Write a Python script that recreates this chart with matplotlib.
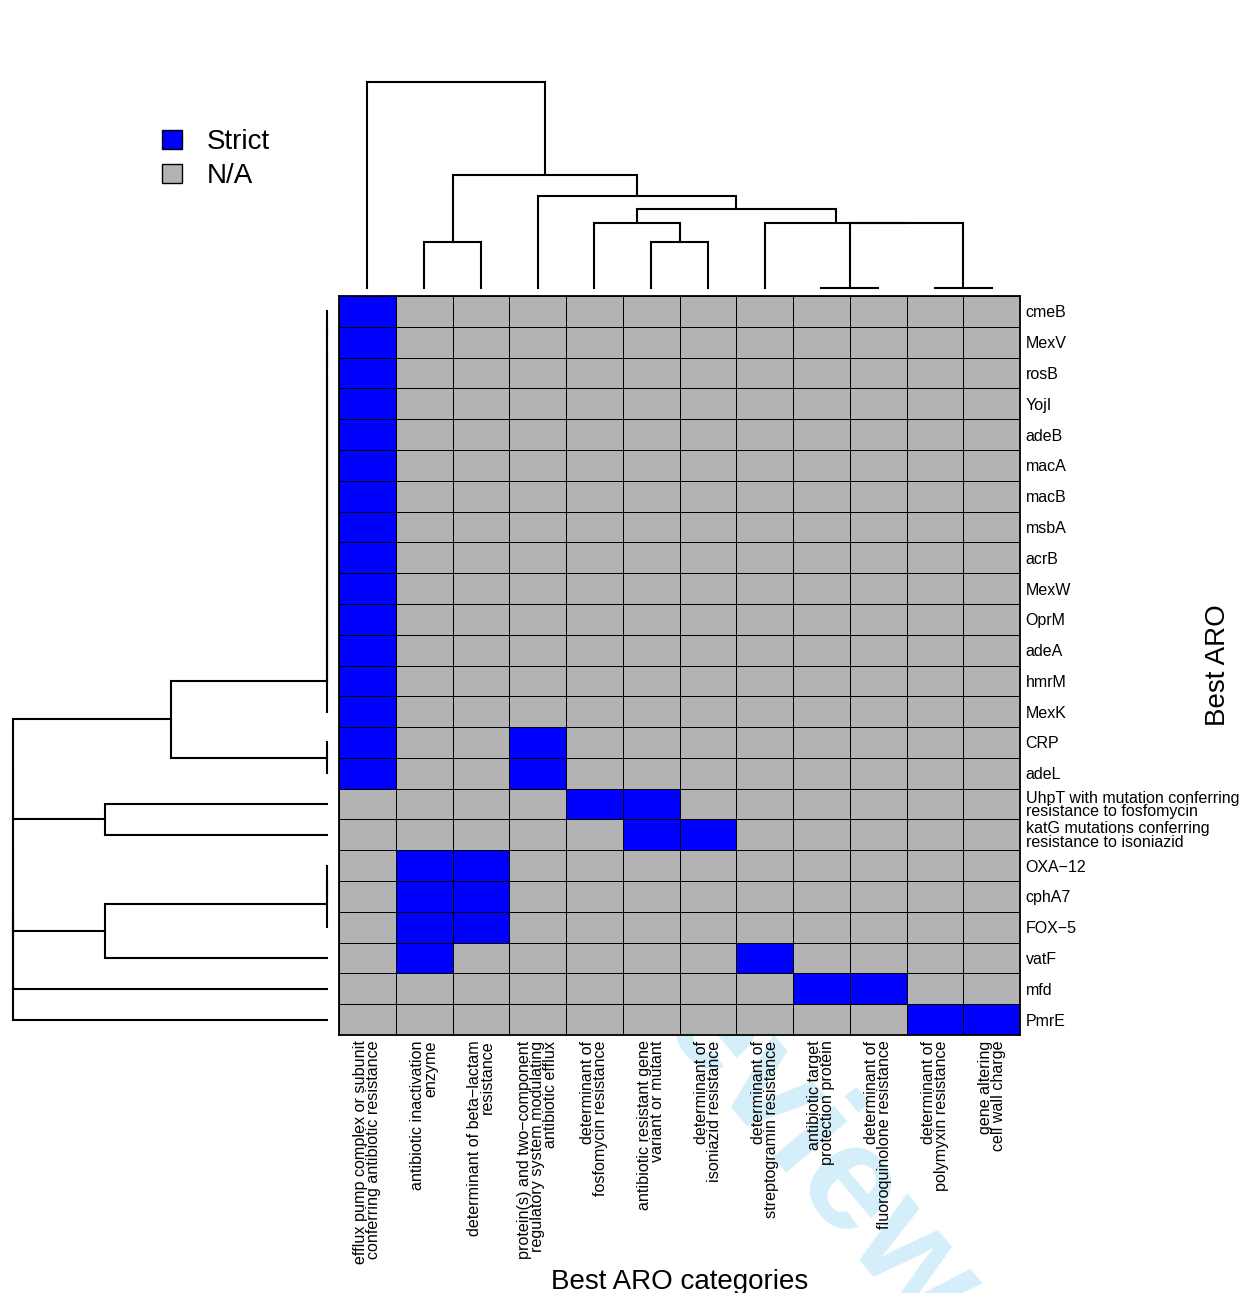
import numpy as np
import matplotlib.pyplot as plt
from matplotlib.colors import ListedColormap
from matplotlib.patches import Patch

plt.rcParams['font.family'] = ['Liberation Sans', 'DejaVu Sans']

# ---- data ----
genes = ['cmeB', 'MexV', 'rosB', 'YojI', 'adeB', 'macA', 'macB', 'msbA', 'acrB',
         'MexW', 'OprM', 'adeA', 'hmrM', 'MexK', 'CRP', 'adeL',
         'UhpT with mutation conferring\nresistance to fosfomycin',
         'katG mutations conferring\nresistance to isoniazid',
         'OXA\u221212', 'cphA7', 'FOX\u22125', 'vatF', 'mfd', 'PmrE']

categories = ['efflux pump complex or subunit\nconferring antibiotic resistance',
              'antibiotic inactivation\nenzyme',
              'determinant of beta\u2212lactam\nresistance',
              'protein(s) and two\u2212component\nregulatory system modulating\nantibiotic efflux',
              'determinant of\nfosfomycin resistance',
              'antibiotic resistant gene\nvariant or mutant',
              'determinant of\nisoniazid resistance',
              'determinant of\nstreptogramin resistance',
              'antibiotic target\nprotection protein',
              'determinant of\nfluoroquinolone resistance',
              'determinant of\npolymyxin resistance',
              'gene altering\ncell wall charge']

# column indices flagged "Strict" for each gene (all others N/A)
strict_cols = [[0]] * 14 + [[0, 3], [0, 3], [4, 5], [5, 6],
                            [1, 2], [1, 2], [1, 2], [1, 7], [8, 9], [10, 11]]

# column dendrogram: merge a, merge b, height (ids >= 12 are earlier merges)
col_merge_a = [1, 5, 4, 8, 10, 15, 7, 14, 3, 12, 0]
col_merge_b = [2, 6, 13, 9, 11, 16, 17, 18, 19, 20, 21]
col_merge_h = [46, 46, 65.3, 0, 0, 65.3, 65.3, 79.3, 92, 112.7, 206]

# row dendrogram (ids >= 24 are earlier merges)
row_merge_a = [0, 24, 25, 26, 27, 28, 29, 30, 31, 32, 33, 34, 35, 14, 36, 16, 18, 40, 41, 38, 43, 44, 45]
row_merge_b = [1, 2, 3, 4, 5, 6, 7, 8, 9, 10, 11, 12, 13, 15, 37, 17, 19, 20, 21, 39, 42, 22, 23]
row_merge_h = [0] * 14 + [156, 222, 0, 0, 222, 314, 314, 314, 314]

W, H = 1244, 1293
fig = plt.figure(figsize=(W / 100, H / 100), dpi=100)


def fig_rect(x0, y0, x1, y1):
    return [x0 / W, 1 - y1 / H, (x1 - x0) / W, (y1 - y0) / H]


def draw_dendro(ax, n, ma, mb, mh, vertical_leaves=True):
    pos = list(np.arange(n) + 0.5)
    hgt = [0.0] * n
    for a, b, h in zip(ma, mb, mh):
        xa, xb, ha, hb = pos[a], pos[b], hgt[a], hgt[b]
        if vertical_leaves:
            ax.plot([xa, xa, xb, xb], [ha, h, h, hb], color='black', lw=1.5,
                    solid_joinstyle='miter', clip_on=False)
        else:
            ax.plot([ha, h, h, hb], [xa, xa, xb, xb], color='black', lw=1.5,
                    solid_joinstyle='miter', clip_on=False)
        pos.append((xa + xb) / 2)
        hgt.append(h)


# ---- watermark (behind everything) ----
fig.text(585 / W, 1 - 945 / H, 'Review', color='#d4eefa', fontsize=108, fontweight='bold',
         rotation=-50, rotation_mode='anchor', ha='left', va='baseline', zorder=-5)

# ---- heatmap ----
mat = np.zeros((len(genes), len(categories)))
for i, cols in enumerate(strict_cols):
    mat[i, cols] = 1

ax = fig.add_axes(fig_rect(339, 296, 1020, 1035))
ax.pcolormesh(mat, cmap=ListedColormap(['#B3B3B3', '#0000FF']), vmin=0, vmax=1,
              edgecolors='black', linewidth=0.6)
ax.set_xlim(0, len(categories))
ax.set_ylim(len(genes), 0)
for s in ax.spines.values():
    s.set_linewidth(1.3)
ax.yaxis.tick_right()
ax.set_yticks(np.arange(len(genes)) + 0.5)
ax.set_yticklabels(genes, fontsize=11.5)
ax.set_xticks(np.arange(len(categories)) + 0.5)
ax.set_xticklabels(categories, fontsize=11.6, rotation=90, ha='center', va='top')
ax.tick_params(length=0, pad=4)
for t in ax.get_xticklabels():
    t.set_multialignment('right')
    t.set_linespacing(0.85)
for t in ax.get_yticklabels():
    t.set_linespacing(0.85)

# ---- column dendrogram ----
axt = fig.add_axes(fig_rect(339, 82, 1020, 288))
draw_dendro(axt, len(categories), col_merge_a, col_merge_b, col_merge_h, True)
axt.set_xlim(0, len(categories))
axt.set_ylim(0, max(col_merge_h))
axt.axis('off')

# ---- row dendrogram ----
axl = fig.add_axes(fig_rect(13, 296, 327, 1035))
draw_dendro(axl, len(genes), row_merge_a, row_merge_b, row_merge_h, False)
axl.set_xlim(max(row_merge_h), 0)
axl.set_ylim(len(genes), 0)
axl.axis('off')

# ---- titles ----
fig.text(679.5 / W, 1 - 1289 / H, 'Best ARO categories', ha='center', va='baseline', fontsize=20)
fig.text(1218 / W, 1 - 665 / H, 'Best ARO', ha='center', va='center', rotation=90, fontsize=20)

# ---- legend ----
handles = [Patch(facecolor='#0000FF', edgecolor='black', label='Strict'),
           Patch(facecolor='#B3B3B3', edgecolor='black', label='N/A')]
fig.legend(handles=handles, loc='upper left', bbox_to_anchor=(162 / W, 1 - 129 / H),
           frameon=False, fontsize=20, handlelength=0.72, handleheight=0.65,
           handletextpad=0.9, labelspacing=0.3, borderpad=0, borderaxespad=0)

fig.savefig('out.png', dpi=100)
